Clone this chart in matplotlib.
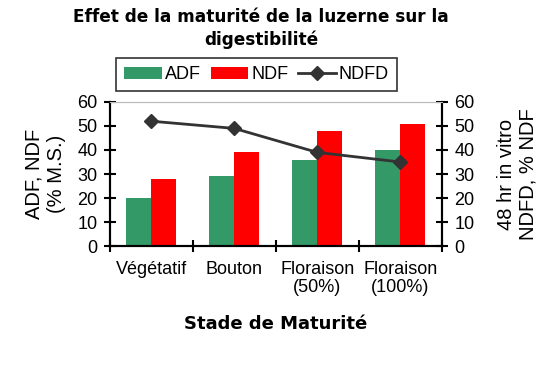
import matplotlib
matplotlib.use("Agg")
import matplotlib.pyplot as plt
import numpy as np

# stades de maturite
stades = ["Végétatif", "Bouton", "Floraison\n(50%)", "Floraison\n(100%)"]
adf = [20, 29, 36, 40]
ndf = [28, 39, 48, 51]
ndfd = [52, 49, 39, 35]

plt.rcParams['font.family'] = ['Liberation Sans', 'DejaVu Sans']

fig = plt.figure(figsize=(5.6, 3.82), dpi=100)
ax = fig.add_axes([0.196, 0.356, 0.593, 0.377])

x = np.arange(len(stades))
w = 0.3
ax.bar(x - w / 2, adf, w, color="#339966", label="ADF")
ax.bar(x + w / 2, ndf, w, color="#FF0000", label="NDF")

ax2 = ax.twinx()
ax2.plot(x, ndfd, "-D", color="#333333", lw=2, markersize=7, label="NDFD")

ax.set_xlim(-0.5, 3.5)
ax.set_ylim(0, 60)
ax2.set_ylim(0, 60)
ax.set_yticks(range(0, 61, 10))
ax2.set_yticks(range(0, 61, 10))

# ticks between categories, labels at centres
ax.set_xticks(np.arange(-0.5, 3.6, 1))
ax.set_xticklabels([])
ax.set_xticks(x, minor=True)
ax.set_xticklabels(stades, minor=True, fontsize=13, linespacing=1.05)
ax.tick_params(axis="x", which="minor", length=0, pad=11)
ax.tick_params(axis="x", which="major", direction="inout", length=8, width=1.5)
ax.tick_params(axis="y", direction="inout", length=8, width=1.5, labelsize=13, pad=5)
ax2.tick_params(axis="y", direction="inout", length=8, width=1.5, labelsize=13, pad=5)

for a in (ax, ax2):
    a.spines["top"].set_color("#bbbbbb")
    a.spines["left"].set_linewidth(1.5)
    a.spines["right"].set_linewidth(1.5)
    a.spines["bottom"].set_linewidth(1.5)

ax.set_ylabel("ADF, NDF\n(% M.S.)", fontsize=14.5, labelpad=8, linespacing=1.2)
ax2.set_ylabel("48 hr in vitro\nNDFD, % NDF", fontsize=14.5, labelpad=16, linespacing=1.2)
ax.set_xlabel("Stade de Maturité", fontsize=13, fontweight="bold",
              family="DejaVu Sans", labelpad=14)

fig.text(0.466, 0.978, "Effet de la maturité de la luzerne sur la\ndigestibilité",
         ha="center", va="top", fontsize=12.2, fontweight="bold",
         family="DejaVu Sans", linespacing=1.3)

h1, l1 = ax.get_legend_handles_labels()
h2, l2 = ax2.get_legend_handles_labels()
leg = fig.legend(h1 + h2, l1 + l2, loc="center", bbox_to_anchor=(0.458, 0.804),
                 ncol=3, fontsize=13, frameon=True, fancybox=False,
                 edgecolor="black", handlelength=2.1, handleheight=0.7,
                 columnspacing=0.55, handletextpad=0.15, borderpad=0.45,
                 borderaxespad=0)
leg.get_frame().set_linewidth(1.2)

fig.savefig("out.png", dpi=100)
